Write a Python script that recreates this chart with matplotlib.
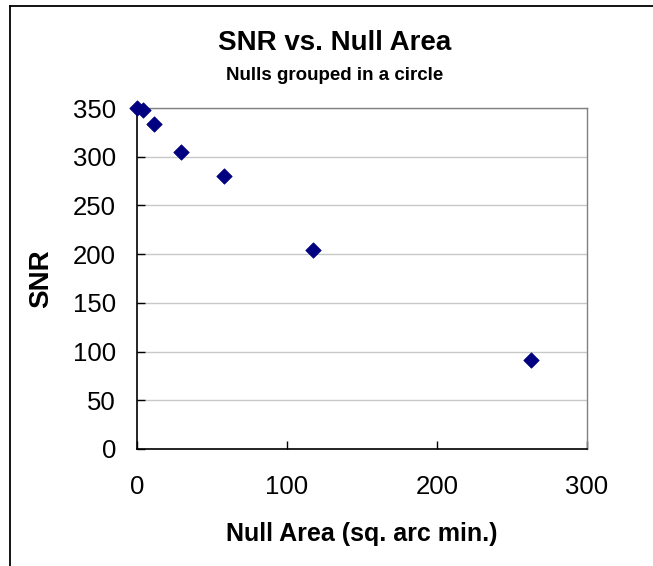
import matplotlib
matplotlib.use("Agg")
import matplotlib.pyplot as plt
from matplotlib.lines import Line2D

# values
null_area = [0.0, 3.7, 11.1, 29.1, 58.2, 117.1, 262.9]
snr = [350, 348, 334, 305, 280, 204, 91]

x_ticks = [0, 100, 200, 300]
y_ticks = [0, 50, 100, 150, 200, 250, 300, 350]

plt.rcParams['font.family'] = ['Liberation Sans', 'DejaVu Sans']

fig = plt.figure(figsize=(6.53, 5.66), dpi=100)
ax = fig.add_axes([137 / 653, 1 - 449 / 566, 450 / 653, 341 / 566])

ax.scatter(null_area, snr, marker='D', s=62, color='#000080',
           edgecolors='#000080', linewidths=0.5, zorder=3, clip_on=False)

ax.set_xlim(0, 300)
ax.set_ylim(0, 350)
ax.set_xticks(x_ticks)
ax.set_yticks(y_ticks)
ax.tick_params(axis='both', direction='in', length=6, width=1,
               labelsize=18.5, colors='black')
ax.tick_params(axis='x', pad=19)
ax.tick_params(axis='y', pad=15)

ax.yaxis.grid(True, color='#c8c8c8', linewidth=1)
ax.set_axisbelow(True)

for side in ['top', 'right']:
    ax.spines[side].set_color('#808080')
    ax.spines[side].set_linewidth(1)
for side in ['left', 'bottom']:
    ax.spines[side].set_color('black')
    ax.spines[side].set_linewidth(1.2)

ax.set_xlabel('Null Area (sq. arc min.)', fontsize=18, fontweight='bold')
ax.set_ylabel('SNR', fontsize=20, fontweight='bold')
ax.xaxis.set_label_coords(0.5, -0.214)
ax.yaxis.set_label_coords(-0.184, 0.5)

fig.text(335 / 653, 1 - 43 / 566, 'SNR vs. Null Area', ha='center',
         va='center', fontsize=20, fontweight='bold')
fig.text(335 / 653, 1 - 75 / 566, 'Nulls grouped in a circle', ha='center',
         va='center', fontsize=13.5, fontweight='bold')

# chart-area border (only top and left edges are visible)
fig.add_artist(Line2D([10 / 653, 1], [1 - 5.5 / 566, 1 - 5.5 / 566],
                      color='black', linewidth=1.3, transform=fig.transFigure))
fig.add_artist(Line2D([10 / 653, 10 / 653], [0, 1 - 5.5 / 566],
                      color='black', linewidth=1.3, transform=fig.transFigure))

fig.savefig('out.png', dpi=100)
